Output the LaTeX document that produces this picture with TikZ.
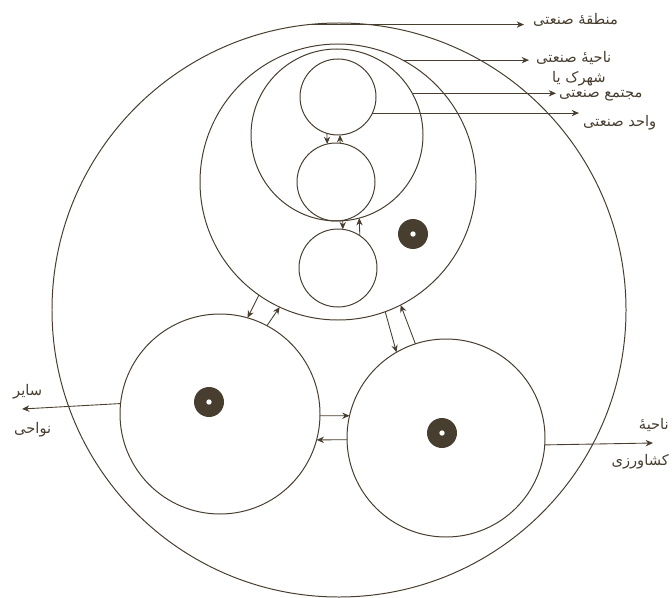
\documentclass[tikz,border=0pt]{standalone}
\usepackage{fontspec}
\newfontfamily\arabicfont[Script=Arabic]{DejaVu Sans}
\TeXXeTstate=1
\usetikzlibrary{arrows.meta}
\definecolor{ink}{RGB}{72,62,48}
\tikzset{
  >=Stealth,
  ring/.style={draw=ink, circle, line width=.85pt, inner sep=0pt, outer sep=0pt},
  core/.style={circle, fill=ink, inner sep=0pt, minimum size=9mm},
  hole/.style={circle, fill=white, inner sep=0pt, minimum size=1.6mm},
  lbl/.style={font=\arabicfont\fontsize{12.5}{14}\selectfont, text=ink, inner sep=0pt},
  arr/.style={-{Stealth[length=2.2mm,width=1.9mm]}, draw=ink, line width=.75pt}
}

\begin{document}
\begin{tikzpicture}[x=0.3mm,y=-0.3mm]
\useasboundingbox (0,0) rectangle (672,598);

% ------------------------------------------------------------------
% rings
% ------------------------------------------------------------------
\node[ring, minimum size=172.2mm] (region) at (339,310) {};
\node[ring, minimum size=82.8mm] (zone) at (338,182) {};
\node[ring, minimum size=51.6mm] (estate) at (337,135) {};
\node[ring, minimum size=22.8mm] (unitA) at (338,97) {};
\node[ring, minimum size=23.4mm] (unitB) at (336,182) {};
\node[ring, minimum size=23.4mm] (unitC) at (338,268) {};
\node[ring, minimum size=60mm] (leftZ) at (220,414) {};
\node[ring, minimum size=59.4mm] (rightZ) at (446,438) {};

% centres
\node[core] (dotZ) at (413,234) {};
\node[hole] (holeZ) at (dotZ) {};
\node[core] (dotL) at (209,402) {};
\node[hole] (holeL) at (dotL) {};
\node[core] (dotR) at (442,433) {};
\node[hole] (holeR) at (dotR) {};

% ------------------------------------------------------------------
% flows between rings
% ------------------------------------------------------------------
\draw[arr] (unitA.253) -- (unitB.103);
\draw[arr] (unitB.84) -- (unitA.273);
\draw[arr] (unitB.280) -- (unitC.83);
\draw[arr] (unitC.56) -- (estate.285);

\draw[arr] (zone.235) -- (leftZ.74);
\draw[arr] (leftZ.62) -- (zone.245);
\draw[arr] (zone.290) -- (rightZ.120);
\draw[arr] (rightZ.108) -- (zone.297);
\draw[arr] (leftZ.359) -- (rightZ.167);
\draw[arr] (rightZ.181) -- (leftZ.345);

% ------------------------------------------------------------------
% labels
% ------------------------------------------------------------------
\coordinate (tipRegion) at (524,0);
\coordinate (tipZone) at (529,0);
\coordinate (tipEstate) at (556,0);
\coordinate (tipUnit) at (579,0);
\coordinate (tipOther) at (22,409);
\coordinate (tipFarm) at (653,443);

\draw[arr] (region.96) -- (region.96 -| tipRegion);
\draw[arr] (zone.62) -- (zone.62 -| tipZone);
\draw[arr] (estate.29) -- (estate.29 -| tipEstate);
\draw[arr] (unitA.335) -- (unitA.335 -| tipUnit);
\draw[arr] (leftZ.174) -- (tipOther);
\draw[arr] (rightZ.356) -- (tipFarm);

\node[lbl, anchor=west] (txtRegion) at (533,20) {\beginR منطقهٔ صنعتی\endR};
\node[lbl, anchor=west] (txtZone) at (536,58) {\beginR ناحیهٔ صنعتی\endR};
\node[lbl, anchor=west] (txtTown) at (552,79) {\beginR شهرک یا\endR};
\node[lbl, anchor=west] (txtEstate) at (559,96) {\beginR مجتمع صنعتی\endR};
\node[lbl, anchor=west] (txtUnit) at (583,123) {\beginR واحد صنعتی\endR};
\node[lbl, anchor=west] (txtOtherA) at (13,392) {\beginR سایر\endR};
\node[lbl, anchor=west] (txtOtherB) at (14,430) {\beginR نواحی\endR};
\node[lbl, anchor=east] (txtFarmA) at (669,425) {\beginR ناحیهٔ\endR};
\node[lbl, anchor=east] (txtFarmB) at (669,462) {\beginR کشاورزی\endR};

\end{tikzpicture}
\end{document}
